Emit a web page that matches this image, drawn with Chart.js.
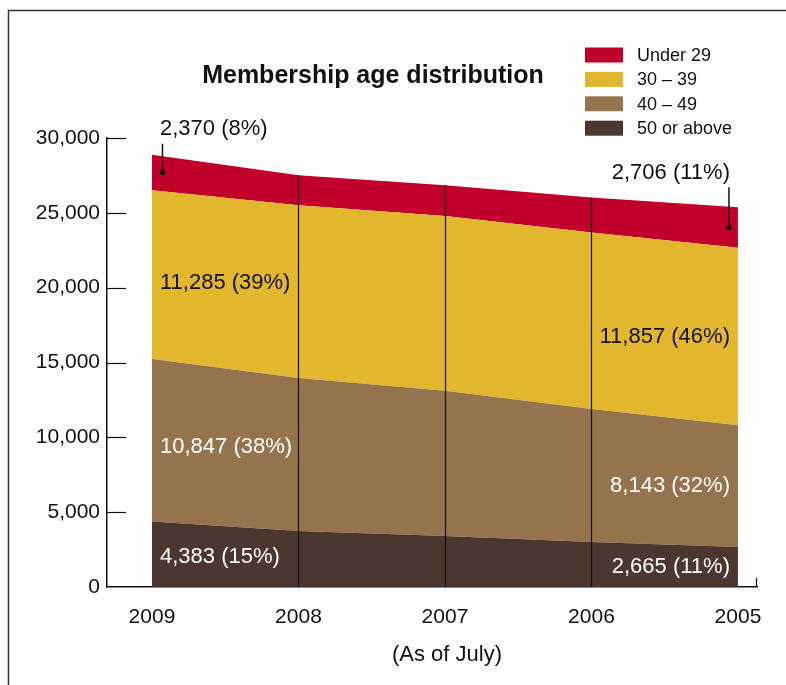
<!DOCTYPE html>
<html lang="en">
<head>
<meta charset="UTF-8" />
<title>Membership age distribution</title>
<script src="https://cdn.jsdelivr.net/npm/chart.js"></script>
<style>
  html, body { margin: 0; padding: 0; background: #fff; }
  #wrap { width: 786px; height: 685px; }
</style>
</head>
<body>
<div id="wrap"><canvas id="ageChart" width="786" height="685"></canvas></div>
<script>
// data, bottom band first
const years = ["2009", "2008", "2007", "2006", "2005"];
const over50 = [4383, 3750, 3410, 3010, 2665];
const age40s = [10847, 10220, 9710, 8880, 8143];
const age30s = [11285, 11530, 11670, 11800, 11857];
const under29 = [2370, 2010, 2050, 2330, 2706];
const bandNames = ["50 or above", "40 \u2013 49", "30 \u2013 39", "Under 29"];
const firstPct = [15, 38, 39, 8];   // shares printed for 2009
const lastPct = [11, 32, 46, 11];   // shares printed for 2005
const yTicks = [0, 5000, 10000, 15000, 20000, 25000, 30000];

const bandColors = ["#4b3630", "#95734c", "#e2b62d", "#c0002a"];
const bandText = ["#fff", "#fff", "#111", "#111"];
const bands = [over50, age40s, age30s, under29];
const FONT = "'Liberation Sans', Arial, sans-serif";

const fmt = v => v.toLocaleString("en-US");

// cumulative tops for each band
function tops(k) {
  return years.map((_, i) => bands.slice(0, k + 1).reduce((s, b) => s + b[i], 0));
}

const decor = {
  id: "decor",
  afterDraw(chart) {
    const ctx = chart.ctx;
    const xs = chart.scales.x, ys = chart.scales.y;
    const area = chart.chartArea;
    const last = years.length - 1;
    ctx.save();

    // frame (top + left)
    ctx.strokeStyle = "#333";
    ctx.lineWidth = 1.5;
    ctx.beginPath();
    ctx.moveTo(8.5, chart.height);
    ctx.lineTo(8.5, 10.5);
    ctx.lineTo(chart.width, 10.5);
    ctx.stroke();

    // title
    ctx.fillStyle = "#111";
    ctx.font = "bold 25px " + FONT;
    ctx.textAlign = "center";
    ctx.textBaseline = "middle";
    ctx.fillText("Membership age distribution", 373, 76);

    // legend, top band first
    ctx.font = "18px " + FONT;
    ctx.textAlign = "left";
    for (let j = 0; j < 4; j++) {
      const k = 3 - j;
      const y = 55 + j * 24.4;
      ctx.fillStyle = bandColors[k];
      ctx.fillRect(585, y - 7.5, 38, 15);
      ctx.fillStyle = "#111";
      ctx.fillText(bandNames[k], 637, y + 1);
    }

    // vertical lines at inner years, up to the stack top
    const total = tops(3);
    ctx.strokeStyle = "#111";
    ctx.lineWidth = 1.2;
    for (let i = 1; i < last; i++) {
      const x = Math.round(xs.getPixelForValue(i)) + 0.5;
      ctx.beginPath();
      ctx.moveTo(x, area.bottom);
      ctx.lineTo(x, ys.getPixelForValue(total[i]));
      ctx.stroke();
    }

    // inward y ticks
    ctx.lineWidth = 1.2;
    yTicks.forEach(v => {
      if (v === 0) return;
      const y = Math.round(ys.getPixelForValue(v)) + 0.5;
      ctx.beginPath();
      ctx.moveTo(area.left, y);
      ctx.lineTo(area.left + 19, y);
      ctx.stroke();
    });
    // small end tick on the x axis
    ctx.beginPath();
    ctx.moveTo(area.right - 0.5, area.bottom);
    ctx.lineTo(area.right - 0.5, area.bottom - 9);
    ctx.stroke();

    // band labels
    ctx.font = "22px " + FONT;
    ctx.textBaseline = "middle";
    for (let k = 0; k < 3; k++) {
      const top = tops(k);
      const mid = i => ys.getPixelForValue(top[i] - bands[k][i] / 2);
      ctx.fillStyle = bandText[k];
      ctx.textAlign = "left";
      ctx.fillText(fmt(bands[k][0]) + " (" + firstPct[k] + "%)",
        xs.getPixelForValue(0) + 8, (mid(0) + mid(1)) / 2);
      ctx.textAlign = "right";
      ctx.fillText(fmt(bands[k][last]) + " (" + lastPct[k] + "%)",
        xs.getPixelForValue(last) - 8, mid(last));
    }

    // under 29 callouts with leader lines
    const redMid = i => ys.getPixelForValue(total[i] - under29[i] / 2);
    const topPx = i => ys.getPixelForValue(total[i]);
    ctx.fillStyle = "#111";
    ctx.strokeStyle = "#111";
    ctx.lineWidth = 1.5;
    const callout = (i, dx, textX, align, textDy, lineDy) => {
      const x = xs.getPixelForValue(i) + dx;
      ctx.textAlign = align;
      ctx.fillText(fmt(under29[i]) + " (" + (i === 0 ? firstPct[3] : lastPct[3]) + "%)",
        textX, topPx(i) + textDy);
      ctx.beginPath();
      ctx.moveTo(x, topPx(i) + lineDy);
      ctx.lineTo(x, redMid(i));
      ctx.stroke();
      ctx.beginPath();
      ctx.arc(x, redMid(i), 2.6, 0, Math.PI * 2);
      ctx.fill();
    };
    callout(0, 10.5, xs.getPixelForValue(0) + 8, "left", -26, -11);
    callout(last, -9, xs.getPixelForValue(last) - 8, "right", -34, -20);

    // x axis caption
    ctx.textAlign = "center";
    ctx.fillText("(As of July)", 447, 655);
    ctx.restore();
  }
};

const ctx = document.getElementById("ageChart").getContext("2d");
new Chart(ctx, {
  type: "line",
  data: {
    datasets: bands.map((b, k) => ({
      label: bandNames[k],
      data: b.map((v, i) => ({ x: i, y: v })),
      backgroundColor: bandColors[k],
      borderWidth: 0,
      pointRadius: 0,
      tension: 0,
      fill: k === 0 ? "origin" : "-1",
    })),
  },
  options: {
    responsive: false,
    devicePixelRatio: 1,
    animation: false,
    layout: { padding: { top: 138, right: 29, left: 0, bottom: 0 } },
    plugins: { legend: { display: false }, title: { display: false }, tooltip: { enabled: false } },
    scales: {
      x: {
        type: "linear",
        min: -0.307,
        max: 4.13,
        z: 1,
        afterFit: s => { s.height = 98; },
        afterBuildTicks: s => { s.ticks = years.map((_, i) => ({ value: i })); },
        grid: { display: false, drawTicks: false },
        border: { display: true, color: "#111", width: 1.5 },
        ticks: {
          autoSkip: false,
          maxRotation: 0,
          padding: 18,
          color: "#111",
          font: { family: FONT, size: 21 },
          callback: v => years[v],
        },
      },
      y: {
        stacked: true,
        min: 0,
        max: 30000,
        z: 1,
        afterFit: s => { s.width = 107; },
        afterBuildTicks: s => { s.ticks = yTicks.map(v => ({ value: v })); },
        grid: { display: false, drawTicks: false },
        border: { display: true, color: "#111", width: 1.5 },
        ticks: {
          padding: 7,
          color: "#111",
          font: { family: FONT, size: 21 },
          callback: v => fmt(v),
        },
      },
    },
  },
  plugins: [decor],
});
</script>
</body>
</html>
